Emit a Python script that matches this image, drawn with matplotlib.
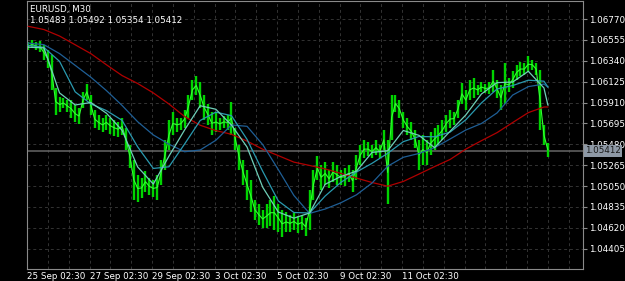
import matplotlib
matplotlib.use("Agg")
import matplotlib.pyplot as plt
import numpy as np

# ---------------- data ----------------
symbol_title = "EURUSD, M30"
ohlc_text = "1.05483 1.05492 1.05354 1.05412"
last_price = 1.05412

# sampled price ranges (every 3 trading hours from 25 Sep 02:30)
bar_high = [1.0653, 1.0655, 1.0653, 1.0654, 1.0650, 1.0645, 1.0640, 1.0606, 1.0597, 1.0596,
            1.0594, 1.0594, 1.0588, 1.0585, 1.0602, 1.0610, 1.0599, 1.0583, 1.0578, 1.0575,
            1.0578, 1.0575, 1.0573, 1.0571, 1.0575, 1.0565, 1.0547, 1.0532, 1.0516, 1.0513,
            1.0520, 1.0513, 1.0511, 1.0516, 1.0532, 1.0552, 1.0573, 1.0581, 1.0575, 1.0575,
            1.0583, 1.0599, 1.0614, 1.0618, 1.0612, 1.0599, 1.0589, 1.0581, 1.0581, 1.0575,
            1.0577, 1.0578, 1.0592, 1.0565, 1.0547, 1.0532, 1.0522, 1.0511, 1.0491, 1.0486,
            1.0480, 1.0486, 1.0491, 1.0495, 1.0486, 1.0480, 1.0478, 1.0475, 1.0477, 1.0474,
            1.0475, 1.0472, 1.0501, 1.0522, 1.0536, 1.0527, 1.0530, 1.0522, 1.0530, 1.0527,
            1.0522, 1.0524, 1.0527, 1.0522, 1.0537, 1.0547, 1.0552, 1.0550, 1.0547, 1.0552,
            1.0547, 1.0563, 1.0552, 1.0599, 1.0599, 1.0594, 1.0581, 1.0575, 1.0571, 1.0563,
            1.0552, 1.0558, 1.0552, 1.0561, 1.0565, 1.0568, 1.0573, 1.0578, 1.0583, 1.0581,
            1.0594, 1.0611, 1.0604, 1.0614, 1.0616, 1.0609, 1.0612, 1.0610, 1.0612, 1.0624,
            1.0614, 1.0609, 1.0632, 1.0616, 1.0623, 1.0630, 1.0633, 1.0632, 1.0639, 1.0635,
            1.0632, 1.0625, 1.0568, 1.05492]
bar_low = [1.0645, 1.0647, 1.0645, 1.0643, 1.0635, 1.0627, 1.0604, 1.0578, 1.0581, 1.0585,
           1.0581, 1.0575, 1.0571, 1.0569, 1.0585, 1.0594, 1.0578, 1.0565, 1.0563, 1.0561,
           1.0563, 1.0559, 1.0557, 1.0556, 1.0558, 1.0542, 1.0524, 1.0491, 1.0489, 1.0493,
           1.0499, 1.0496, 1.0494, 1.0491, 1.0506, 1.0522, 1.0542, 1.0558, 1.0561, 1.0563,
           1.0565, 1.0575, 1.0594, 1.0599, 1.0585, 1.0573, 1.0568, 1.0558, 1.0561, 1.0563,
           1.0565, 1.0563, 1.0558, 1.0542, 1.0522, 1.0506, 1.0491, 1.0478, 1.0470, 1.0465,
           1.0462, 1.0462, 1.0464, 1.0460, 1.0458, 1.0452, 1.0458, 1.0458, 1.0460, 1.0457,
           1.0460, 1.0454, 1.0460, 1.0491, 1.0511, 1.0501, 1.0506, 1.0503, 1.0509, 1.0506,
           1.0506, 1.0505, 1.0509, 1.0499, 1.0511, 1.0527, 1.0534, 1.0536, 1.0534, 1.0537,
           1.0534, 1.0542, 1.0486, 1.0552, 1.0581, 1.0575, 1.0565, 1.0558, 1.0552, 1.0544,
           1.0522, 1.0527, 1.0527, 1.0537, 1.0542, 1.0547, 1.0552, 1.0561, 1.0565, 1.0568,
           1.0575, 1.0589, 1.0583, 1.0594, 1.0596, 1.0599, 1.0602, 1.0601, 1.0600, 1.0602,
           1.0596, 1.0583, 1.0589, 1.0602, 1.0606, 1.0614, 1.0618, 1.0619, 1.0622, 1.0625,
           1.0619, 1.0563, 1.0547, 1.05354]

# moving averages sampled every 12 trading hours (+ last bar)
ma_slow = [1.06695, 1.06662, 1.06595, 1.06505, 1.06414, 1.06299, 1.06188, 1.06106, 1.06009, 1.05895,
           1.05766, 1.05676, 1.05621, 1.05583, 1.05513, 1.05429, 1.05363, 1.05296, 1.05262, 1.05226,
           1.05180, 1.05132, 1.05086, 1.05048, 1.05097, 1.05173, 1.05250, 1.05324, 1.05430, 1.05517,
           1.05600, 1.05704, 1.05806, 1.05864, 1.05864]
ma_mid = [1.06522, 1.06506, 1.06414, 1.06293, 1.06171, 1.06033, 1.05880, 1.05712, 1.05576, 1.05481,
          1.05403, 1.05421, 1.05521, 1.05679, 1.05665, 1.05477, 1.05219, 1.04952, 1.04768, 1.04813,
          1.04877, 1.04959, 1.05081, 1.05254, 1.05346, 1.05385, 1.05445, 1.05535, 1.05627, 1.05694,
          1.05803, 1.05987, 1.06074, 1.06100, 1.06070]
ma_fast = [1.06498, 1.06478, 1.06334, 1.06020, 1.05896, 1.05827, 1.05727, 1.05453, 1.05231, 1.05248,
           1.05482, 1.05725, 1.05811, 1.05775, 1.05530, 1.05202, 1.04896, 1.04777, 1.04772, 1.04947,
           1.05087, 1.05194, 1.05284, 1.05387, 1.05507, 1.05560, 1.05557, 1.05606, 1.05732, 1.05906,
           1.06050, 1.06085, 1.06140, 1.06130, 1.06070]
ma_vfast = [1.06480, 1.06473, 1.06009, 1.05885, 1.05910, 1.05800, 1.05624, 1.05246, 1.05070, 1.05357,
            1.05627, 1.05877, 1.05841, 1.05679, 1.05451, 1.05038, 1.04782, 1.04719, 1.04772, 1.05068,
            1.05148, 1.05203, 1.05396, 1.05413, 1.05622, 1.05572, 1.05445, 1.05615, 1.05782, 1.05998,
            1.06115, 1.06121, 1.06232, 1.06060, 1.05885]

x_labels = ["25 Sep 02:30", "27 Sep 02:30", "29 Sep 02:30", "3 Oct 02:30",
            "5 Oct 02:30", "9 Oct 02:30", "11 Oct 02:30"]
y_ticks = [1.04405, 1.04620, 1.04835, 1.05050, 1.05265, 1.05480,
           1.05695, 1.05910, 1.06125, 1.06340, 1.06555, 1.06770]

# time axes (trading hours since 25 Sep 02:30)
t_bars = 1 + 3 * np.arange(len(bar_high))
t_ma = np.array(list(range(1, 398, 12)) + [400])
label_pos = 48 * np.arange(len(x_labels))

# ---------------- plot ----------------
W, H = 625, 281
fig = plt.figure(figsize=(W / 100, H / 100), dpi=100, facecolor="black")
ax = fig.add_axes([27 / W, 1 - 269 / H, (583 - 27) / W, 268 / H])
ax.set_facecolor("black")

ax.set_xlim(0, 427)
ax.set_ylim(1.04195, 1.06956)

grid_col = "#333333"
for t in np.arange(16, 427, 16):
    ax.axvline(t, color=grid_col, lw=0.7, ls=(0, (3, 3)), zorder=0)
for y in y_ticks:
    ax.axhline(y, color=grid_col, lw=0.7, ls=(0, (3, 3)), zorder=0)

ax.axhline(last_price, color="#666666", lw=1.1, zorder=1)

ax.vlines(t_bars, bar_low, bar_high, color="#00d400", lw=1.7, zorder=2)
mid = (np.array(bar_high) + np.array(bar_low)) / 2
ax.plot(t_bars, mid, color="#33ff33", lw=0.8, zorder=3)

ax.plot(t_ma, ma_slow, color="#b00000", lw=0.9, zorder=4)
ax.plot(t_ma, ma_mid, color="#1f5f96", lw=0.9, zorder=4)
ax.plot(t_ma, ma_fast, color="#2a9ab0", lw=0.9, zorder=4)
ax.plot(t_ma, ma_vfast, color="#6fcfb8", lw=0.9, zorder=4)

for s in ax.spines.values():
    s.set_color("#8a8a8a")
    s.set_linewidth(0.8)

ax.yaxis.tick_right()
ax.set_yticks(y_ticks)
ax.set_yticklabels([f"{v:.5f}" for v in y_ticks], color="white", fontsize=6.3)
ax.tick_params(axis="y", colors="#8a8a8a", labelcolor="white", length=3, pad=1)

ax.set_xticks(label_pos)
ax.set_xticklabels(x_labels, color="white", fontsize=6.3, ha="left")
ax.tick_params(axis="x", colors="#8a8a8a", labelcolor="white", length=0, pad=2)

ax.text(0.006, 0.985, symbol_title, transform=ax.transAxes, color="white",
        fontsize=6.3, va="top", ha="left")
ax.text(0.006, 0.945, ohlc_text, transform=ax.transAxes, color="white",
        fontsize=6.3, va="top", ha="left")

ax.text(1.004, last_price, f"{last_price:.5f}", transform=ax.get_yaxis_transform(),
        color="#1a1a1a", fontsize=6.3, va="center", ha="left", zorder=10,
        bbox=dict(boxstyle="square,pad=0.15", fc="#8e99a6", ec="none"))

fig.savefig("out.png", dpi=100, facecolor="black")
